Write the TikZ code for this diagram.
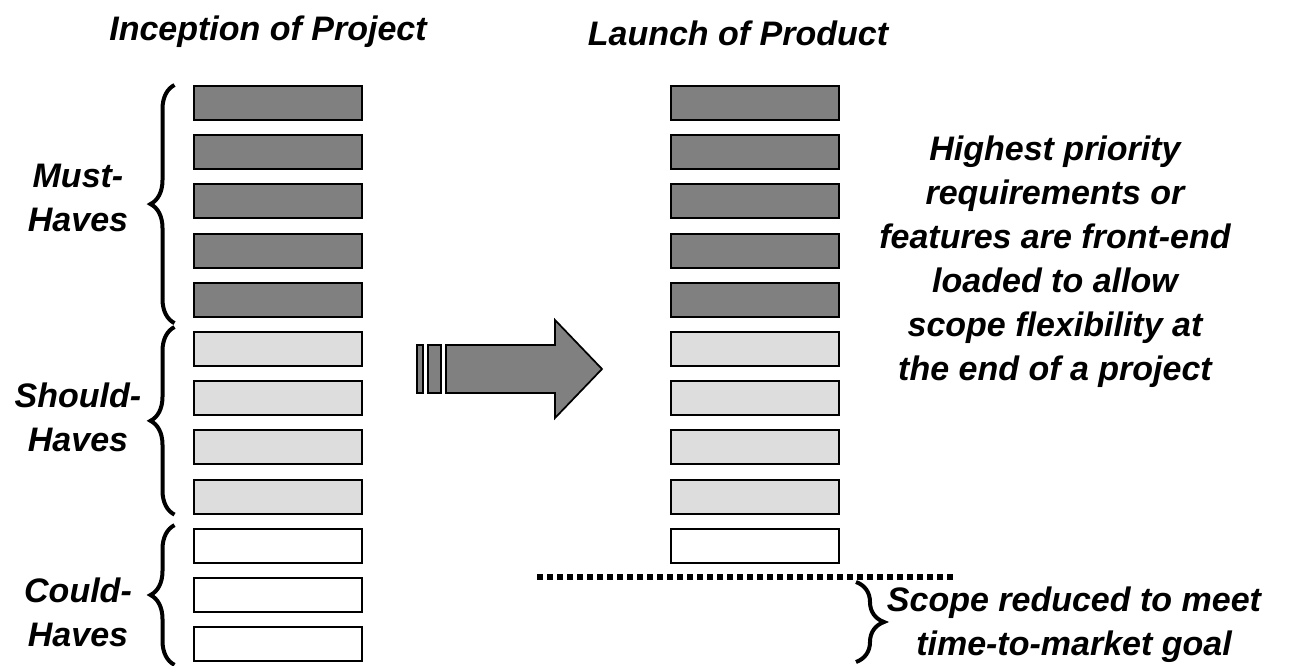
\documentclass[tikz,border=0pt]{standalone}
\usepackage{fontspec}
\setmainfont{Liberation Sans}
\usepackage{tikz}
\usetikzlibrary{positioning,decorations.pathreplacing}
\definecolor{featdark}{RGB}{128,128,128}
\definecolor{featlight}{RGB}{221,221,221}

\begin{document}
\begin{tikzpicture}[x=0.75pt,y=-0.75pt,
  bar/.style={draw=black,line width=1.5pt,minimum width=126pt,minimum height=25.5pt,inner sep=0pt},
  darkbar/.style={bar,fill=featdark},
  lightbar/.style={bar,fill=featlight},
  whitebar/.style={bar,fill=white},
  lbl/.style={font=\fontsize{25.5}{33}\selectfont\bfseries\itshape,align=center,inner sep=0pt},
  curly/.style={decorate,decoration={brace,amplitude=18pt},line width=3pt},
  arrowpart/.style={draw=black,line width=1.3pt,fill=featdark,line join=miter}]
\useasboundingbox (0,0) rectangle (1293,665);
% column titles
\node[lbl,anchor=base] (inception) at (268,40) {Inception of Project};
\node[lbl,anchor=base] (launch) at (738,45) {Launch of Product};
% feature stack at inception: must, should, could
\foreach \i in {1,...,5} \node[darkbar] (L\i) at (277.5,{103+(\i-1)*49.2}) {};
\foreach \i in {6,...,9} \node[lightbar] (L\i) at (277.5,{103+(\i-1)*49.2}) {};
\foreach \i in {10,11,12} \node[whitebar] (L\i) at (277.5,{103+(\i-1)*49.2}) {};
% feature stack at launch
\foreach \i in {1,...,5} \node[darkbar] (R\i) at (754.5,{103+(\i-1)*49.2}) {};
\foreach \i in {6,...,9} \node[lightbar] (R\i) at (754.5,{103+(\i-1)*49.2}) {};
\node[whitebar] (R10) at (754.5,{103+9*49.2}) {};
% braces on the left
\draw[curly] ([xshift=-13.5pt,yshift=-4pt]L5.south west) -- ([xshift=-13.5pt]L1.north west);
\draw[curly] ([xshift=-13.5pt]L9.south west) -- ([xshift=-13.5pt,yshift=3pt]L6.north west);
\draw[curly] ([xshift=-13.5pt,yshift=-2pt]L12.south west) -- ([xshift=-13.5pt,yshift=2pt]L10.north west);
\node[lbl] (must) at (78,198) {Must-\\Haves};
\node[lbl] (should) at (78,417) {Should-\\Haves};
\node[lbl] (could) at (78,612) {Could-\\Haves};
% big arrow with two tail bars
\draw[arrowpart] (446,345) -- (555,345) -- (555,320) -- (602,369) -- (555,418) -- (555,393) -- (446,393) -- cycle;
\draw[arrowpart] (417,345) rectangle (423,393);
\draw[arrowpart] (428,345) rectangle (441,393);
% explanation
\node[lbl] (priority) at (1055,262) {Highest priority\\requirements or\\features are front-end\\loaded to allow\\scope flexibility at\\the end of a project};
% cut line and reduced scope
\coordinate (cutL) at (537,577);
\coordinate (cutR) at (957,577);
\draw[line width=5pt,dash pattern=on 4.5pt off 3pt] (cutL) -- (cutR);
\coordinate (scopeT) at (856,582);
\coordinate (scopeB) at (856,662);
\draw[curly,decoration={brace,amplitude=21pt}] (scopeT) -- (scopeB);
\node[lbl] (reduced) at (1074,625) {Scope reduced to meet\\time-to-market goal};
\end{tikzpicture}
\end{document}
